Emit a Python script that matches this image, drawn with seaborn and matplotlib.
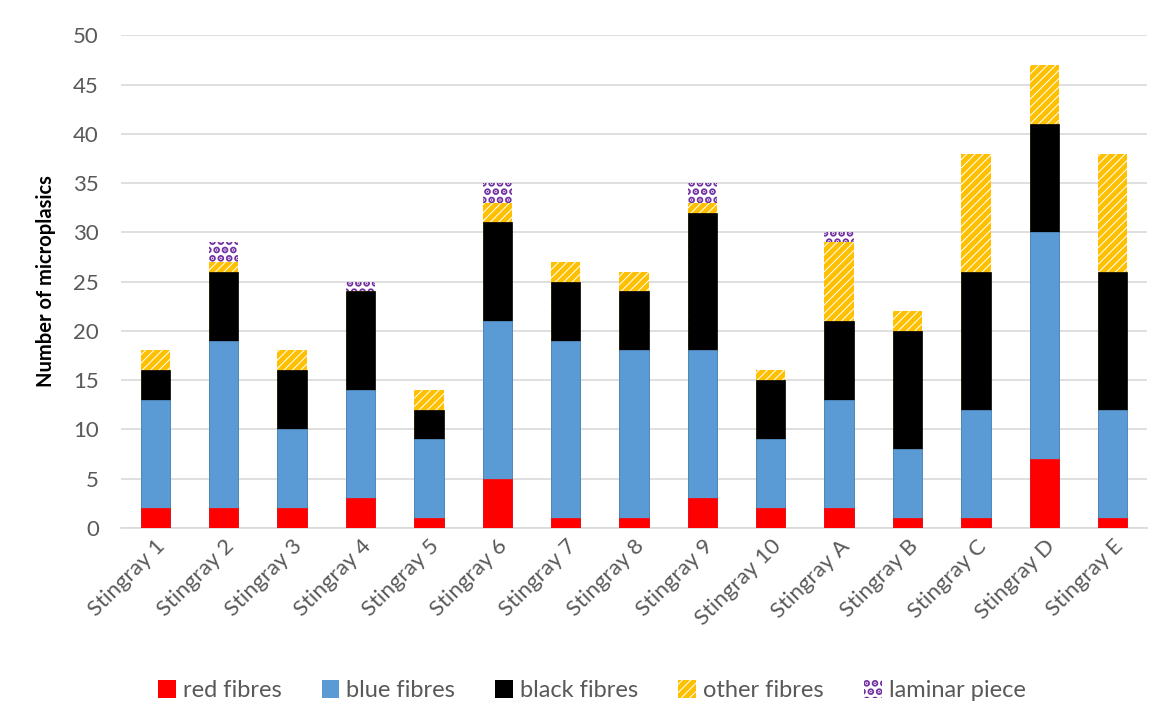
import matplotlib
matplotlib.use("Agg")
import matplotlib.pyplot as plt
from matplotlib.patches import Patch
import numpy as np
import pandas as pd
import seaborn as sns

# Microplastic counts per stingray, split by particle type
categories = ["Stingray 1", "Stingray 2", "Stingray 3", "Stingray 4", "Stingray 5",
              "Stingray 6", "Stingray 7", "Stingray 8", "Stingray 9", "Stingray 10",
              "Stingray A", "Stingray B", "Stingray C", "Stingray D", "Stingray E"]
red_fibres = [2, 2, 2, 3, 1, 5, 1, 1, 3, 2, 2, 1, 1, 7, 1]
blue_fibres = [11, 17, 8, 11, 8, 16, 18, 17, 15, 7, 11, 7, 11, 23, 11]
black_fibres = [3, 7, 6, 10, 3, 10, 6, 6, 14, 6, 8, 12, 14, 11, 14]
other_fibres = [2, 1, 2, 0, 2, 2, 2, 2, 1, 1, 8, 2, 12, 6, 12]
laminar_piece = [0, 2, 0, 1, 0, 2, 0, 0, 2, 0, 1, 0, 0, 0, 0]

series_names = ["red fibres", "blue fibres", "black fibres", "other fibres", "laminar piece"]
series_values = [red_fibres, blue_fibres, black_fibres, other_fibres, laminar_piece]

sns.set_theme(style="white")
plt.rcParams["font.family"] = ["Lato", "DejaVu Sans"]
plt.rcParams["hatch.linewidth"] = 3.5

fig = plt.figure(figsize=(11.65, 7.21), dpi=100)
ax = fig.add_axes([0.1039, 0.268, 0.8806, 0.683])

# Cumulative totals, drawn from the top layer down so each bar covers the one behind
cum = np.cumsum(np.array(series_values), axis=0)
styles = [
    dict(color="#FF0000", hatch=None, edge="#FF0000"),
    dict(color="#5B9BD5", hatch=None, edge="#5B9BD5"),
    dict(color="#000000", hatch=None, edge="#000000"),
    dict(color="#FFFFFF", hatch="////", edge="#FFC000"),
    dict(color="#FFFFFF", hatch="..", edge="#7030A0"),
]

for i in reversed(range(len(series_names))):
    df = pd.DataFrame({"stingray": categories, "count": cum[i]})
    st = styles[i]
    sns.barplot(data=df, x="stingray", y="count", ax=ax, color=st["color"],
                saturation=1, width=0.43, errorbar=None, zorder=3,
                hatch=st["hatch"], edgecolor=st["edge"],
                linewidth=0 if st["hatch"] else 0.5)

ax.set_xlim(-0.5, len(categories) - 0.5)
ax.set_ylim(0, 50)
ax.set_yticks(np.arange(0, 51, 5))
ax.grid(axis="y", color="#D9D9D9", linewidth=1.2, zorder=0)
ax.set_axisbelow(True)
for side in ["top", "right", "left"]:
    ax.spines[side].set_visible(False)
ax.spines["bottom"].set_color("#D9D9D9")
ax.spines["bottom"].set_linewidth(1.2)
ax.tick_params(axis="both", length=0, colors="#595959", labelsize=16)
ax.tick_params(axis="y", pad=16)
ax.tick_params(axis="x", pad=6)
ax.set_xlabel("")
ax.set_ylabel("Number of microplasics", fontsize=14.5, fontweight="bold",
              color="#000000", labelpad=12)
plt.setp(ax.get_xticklabels(), rotation=45, ha="right", rotation_mode="anchor")

handles = []
for name, st in zip(series_names, styles):
    handles.append(Patch(facecolor=st["color"], edgecolor=st["edge"],
                         hatch=st["hatch"], linewidth=0, label=name))
leg = fig.legend(handles=handles, loc="center", bbox_to_anchor=(0.508, 0.042),
                 ncol=5, frameon=False, fontsize=17, handlelength=0.75,
                 handleheight=0.75, handletextpad=0.3, columnspacing=1.7)
for t in leg.get_texts():
    t.set_color("#595959")

fig.savefig("out.png", dpi=100, facecolor="white")
